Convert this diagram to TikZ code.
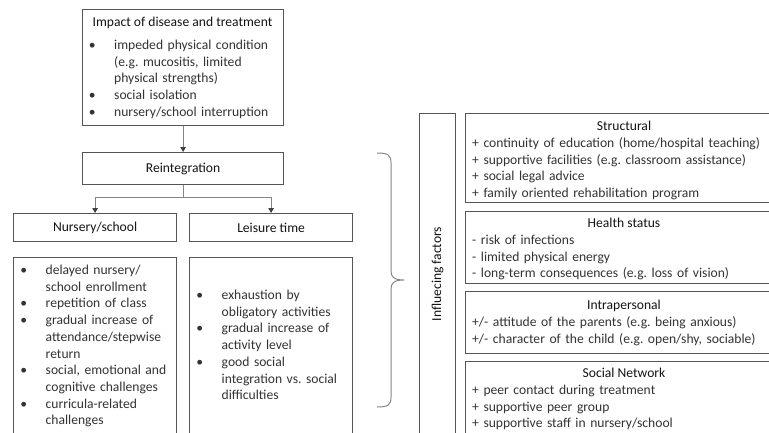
\documentclass[tikz,border=0pt]{standalone}
\usepackage{fontspec}
\setmainfont{Carlito}
\usetikzlibrary{arrows.meta}
\definecolor{bodytxt}{HTML}{333333}
\definecolor{titletxt}{HTML}{141414}
\definecolor{boxline}{HTML}{555555}
\definecolor{conn}{HTML}{858585}
\definecolor{tipcol}{HTML}{404040}
\newcommand\bu{\leavevmode\llap{•\hspace{18.5pt}}}
\frenchspacing
\begin{document}
\begin{tikzpicture}[x=1pt,y=-1pt,
  every node/.style={font=\fontsize{13.6}{16.7}\selectfont},
  box/.style={draw=boxline,line width=1.2pt,inner sep=0pt,anchor=north west,text=titletxt},
  ttl/.style={inner sep=0pt,anchor=base,text=titletxt},
  lst/.style={inner sep=0pt,anchor=base west,text=bodytxt,text width=300pt,align=left},
  conn/.style={draw=conn,line width=0.9pt,-{Triangle[length=5pt,width=5.5pt,color=tipcol]}},
  brace/.style={draw=conn,line width=1pt}]
\clip (0,0) rectangle (769,432);
\fill[white] (0,0) rectangle (769,432);
% left column boxes
\node[box,minimum width=201pt,minimum height=116pt] (impact) at (82,9) {};
\node[box,minimum width=201pt,minimum height=32pt] (reint) at (82,152) {Reintegration};
\node[box,minimum width=163pt,minimum height=28pt] (nurs) at (13,213) {Nursery/school};
\node[box,minimum width=163pt,minimum height=28pt] (leis) at (189,213) {Leisure time};
\node[box,minimum width=163pt,minimum height=200pt] (nlist) at (13,257) {};
\node[box,minimum width=163pt,minimum height=200pt] (llist) at (189,257) {};
% texts
\node[ttl] (impactT) at (182.5,26.5) {Impact of disease and treatment};
\node[lst] (impactL) at (114,49.5) {\bu impeded physical condition\\(e.g. mucositis, limited\\physical strengths)\\\bu social isolation\\\bu nursery/school interruption};
\node[lst] (nlistL) at (45.5,274.5) {\bu delayed nursery/\\school enrollment\\\bu repetition of class\\\bu gradual increase of\\attendance/stepwise\\return\\\bu social, emotional and\\cognitive challenges\\\bu curricula-related\\challenges};
\node[lst] (llistL) at (221.5,299.5) {\bu exhaustion by\\obligatory activities\\\bu gradual increase of\\activity level\\\bu good social\\integration vs. social\\difficulties};
% connectors
\draw[conn] (impact.south) -- (reint.north);
\draw[draw=conn,line width=0.9pt] (reint.south) -- ++(0,12) coordinate (split);
\draw[conn] (split) -| (nurs.north);
\draw[conn] (split) -| (leis.north);
% brace
\coordinate (bt) at (377,153);
\coordinate (btip) at (404,280);
\coordinate (bb) at (377,407);
\draw[brace] (bt) .. controls (388,153) and (391,155) .. (391,163) -- (391,271)
  .. controls (391,277) and (394,280) .. (btip)
  .. controls (394,280) and (391,283) .. (391,289) -- (391,397)
  .. controls (391,405) and (388,407) .. (bb);
% right column
\node[box,minimum width=36pt,minimum height=340pt] (infl) at (419,113) {};
\node[inner sep=0pt,text=titletxt,rotate=90] (inflT) at (437.5,274) {Influecing factors};
\node[box,minimum width=318pt,minimum height=89pt] (struct) at (465,113) {};
\node[box,minimum width=318pt,minimum height=72pt] (health) at (465,211) {};
\node[box,minimum width=318pt,minimum height=62pt] (intra) at (465,291) {};
\node[box,minimum width=318pt,minimum height=100pt] (social) at (465,361) {};
\node[ttl] (structT) at (624,130.5) {Structural};
\node[lst] (structL) at (472,147.5) {+ continuity of education (home/hospital teaching)\\+ supportive facilities (e.g. classroom assistance)\\+ social legal advice\\+ family oriented rehabilitation program};
\node[ttl] (healthT) at (624,227.5) {Health status};
\node[lst] (healthL) at (472,244.5) {- risk of infections\\- limited physical energy\\- long-term consequences (e.g. loss of vision)};
\node[ttl] (intraT) at (624,309.5) {Intrapersonal};
\node[lst] (intraL) at (472,326.5) {+/- attitude of the parents (e.g. being anxious)\\+/- character of the child (e.g. open/shy, sociable)};
\node[ttl] (socialT) at (624,377.5) {Social Network};
\node[lst] (socialL) at (472,394.5) {+ peer contact during treatment\\+ supportive peer group\\+ supportive staff in nursery/school};
\end{tikzpicture}
\end{document}
